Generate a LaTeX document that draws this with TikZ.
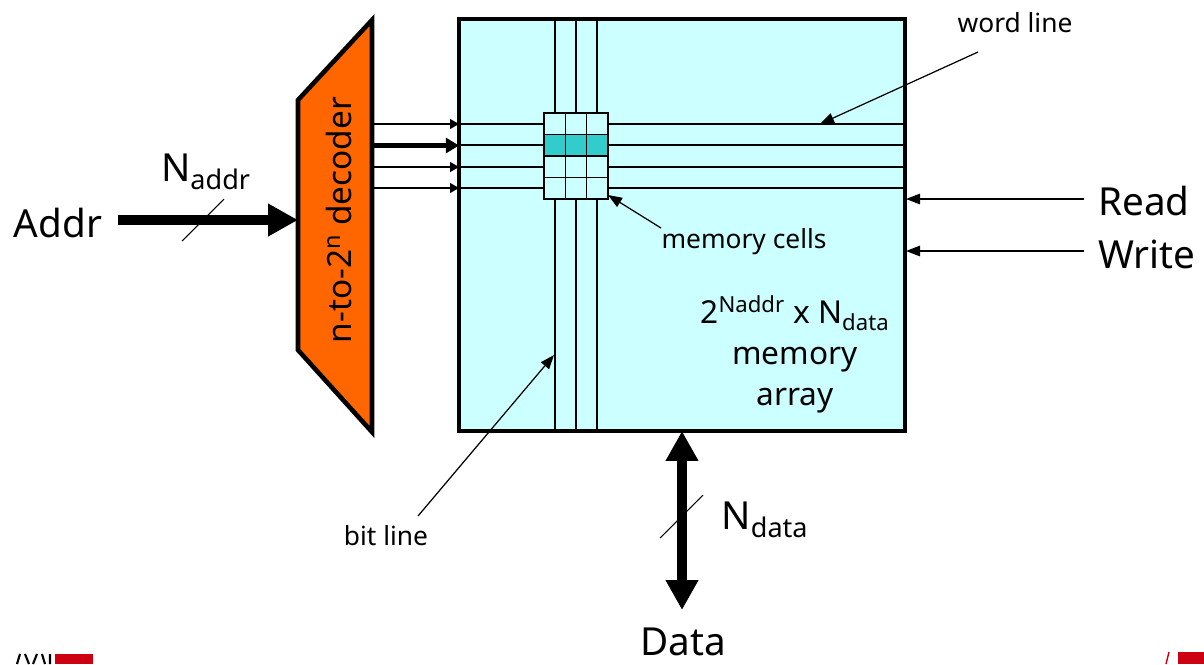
\documentclass[tikz,border=0pt]{standalone}
\usepackage{fontspec}
\setmainfont{Noto Sans}
\usetikzlibrary{arrows.meta}
\definecolor{cellblue}{HTML}{CCFFFF}
\definecolor{celldark}{HTML}{33CCCC}
\definecolor{decoder}{HTML}{FF6600}
\definecolor{logored}{HTML}{CC0011}
\tikzset{%
    biglabel/.style={inner sep=0pt,font=\fontsize{22}{26}\selectfont},
    midlabel/.style={inner sep=0pt,font=\fontsize{18}{22}\selectfont},
    smalllabel/.style={inner sep=0pt,font=\fontsize{15}{18}\selectfont},
    thinarrow/.style={line width=0.8pt,-{Triangle[length=5pt,width=5.5pt]}},
    thickarrow/.style={line width=2.3pt,-{Triangle[length=7.5pt,width=8.5pt]}},
    busarrow/.style={line width=6pt,-{Triangle[length=17pt,width=17.5pt]}},
    callout/.style={line width=0.7pt,-{Triangle[length=8pt,width=6pt]}},
    slash/.style={line width=0.6pt}
}
\begin{document}
\begin{tikzpicture}[x=0.02cm,y=-0.02cm]
\useasboundingbox (0,0) rectangle (1204,664);
	\begin{scope}
	% memory array
	\filldraw[fill=cellblue,line width=2.6pt] (459,19) rectangle (905,431);
	\foreach \x in {555,576,597}
		\draw[line width=0.7pt] (\x,19) -- (\x,431);
	\foreach \y in {124,145,167,188}
		\draw[line width=1.2pt] (459,\y) -- (905,\y);
	% cells
	\fill[cellblue] (544,113) rectangle (608,199);
	\fill[celldark] (544,134.5) rectangle (608,156);
	\draw[line width=0.8pt] (544,113) rectangle (608,199);
	\foreach \x in {565.3,586.7}
		\draw[line width=0.8pt] (\x,113) -- (\x,199);
	\foreach \y in {134.5,156,177.5}
		\draw[line width=0.8pt] (544,\y) -- (608,\y);
	\end{scope}
% decoder
\filldraw[fill=decoder,line width=2.6pt,miter limit=10] (298,100) -- (372,20) -- (372,432) -- (298,350) -- cycle;
\node[inner sep=0pt,font=\fontsize{19}{23}\selectfont,rotate=90] (dec) at (339,220) {n-to-2\textsuperscript{n} decoder};
% decoder outputs
\draw[thinarrow] (372,124) -- (459,124);
\draw[thickarrow] (372,145.5) -- (459,145.5);
\draw[thinarrow] (372,167) -- (459,167);
\draw[thinarrow] (372,188) -- (459,188);
% address side
\node[biglabel] (addr) at (58,223) {Addr};
\node[biglabel] (naddr) at (206,172) {N\textsubscript{addr}};
\coordinate (decin) at (298,220);
\draw[busarrow] (118,220) -- (decin);
\draw[slash] (182,241) -- (224,199);
% control
\node[biglabel] (read) at (1144,201) {Read};
\node[biglabel] (write) at (1147,254) {Write};
\coordinate (readin) at (906,199);
\coordinate (writein) at (906,251);
\draw[callout] (1084,199) -- (readin);
\draw[callout] (1084,251) -- (writein);
% data side
\node[biglabel] (data) at (683,642) {Data};
\node[biglabel] (ndata) at (765,520) {N\textsubscript{data}};
\coordinate (datatop) at (682,431);
\coordinate (databot) at (682,610);
\draw[line width=6pt,{Triangle[length=17pt,width=17.5pt]}-{Triangle[length=17pt,width=17.5pt]}] (datatop) -- (databot);
\draw[slash] (660,538) -- (703,495);
% labels inside
\node[midlabel] (size) at (795,313) {2\textsuperscript{Naddr} x N\textsubscript{data}};
\node[midlabel] (mem) at (795,360) {memory};
\node[midlabel] (arr) at (795,401) {array};
% callouts
\node[smalllabel] (wordl) at (1015,23) {word line};
\node[smalllabel] (cells) at (744,242) {memory cells};
\node[smalllabel] (bitl) at (386,536) {bit line};
\coordinate (wordt) at (820,124);
\coordinate (cellt) at (608,195);
\coordinate (bitt) at (554,355);
\draw[callout] (978,52) -- (wordt);
\draw[callout] (661,228) -- (cellt);
\draw[callout] (418,516) -- (bitt);
% logo bits at the bottom edge
\fill[logored] (55,654) rectangle (93,664);
\fill[logored] (1178,652) rectangle (1204,664);
\draw[logored,line width=0.8pt] (1169,652) -- (1166,664);
\draw[line width=1.2pt] (17,664) -- (20,654) (25,654) -- (29,664) (33,664) -- (37,654) (42,654) -- (45,664) (50,654) -- (50,664);
\end{tikzpicture}
\end{document}
